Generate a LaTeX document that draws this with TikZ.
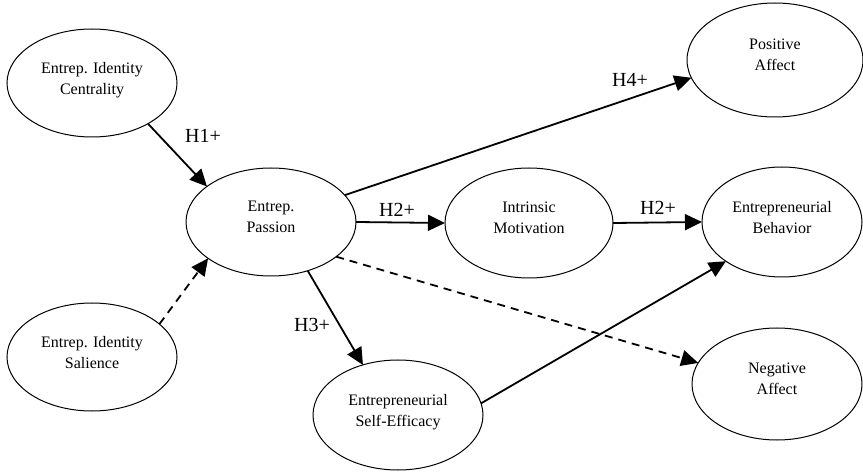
\documentclass[tikz,border=0pt]{standalone}
\usepackage{fontspec}
\setmainfont{Liberation Serif}
\usetikzlibrary{shapes.geometric,arrows.meta}
\begin{document}
\begin{tikzpicture}[x=1pt,y=-1pt,
  ell/.style={ellipse,draw,line width=1pt,inner sep=0pt,outer sep=0pt,
    align=center,text depth=10pt,font=\fontsize{16}{21}\selectfont},
  conn/.style={line width=1.8pt,-{Triangle[length=17pt,width=16pt]}},
  dashconn/.style={conn,dash pattern=on 8pt off 6pt},
  hlab/.style={font=\fontsize{20}{24}\selectfont,inner sep=0pt}]
\useasboundingbox (0,0) rectangle (863,473);
\node[ell,minimum width=170pt,minimum height=108pt] (cent) at (92,83) {Entrep. Identity\\Centrality};
\node[ell,minimum width=170pt,minimum height=108pt] (sal) at (92,357) {Entrep. Identity\\Salience};
\node[ell,minimum width=170pt,minimum height=108pt] (pas) at (271,222) {Entrep.\\Passion};
\node[ell,minimum width=168pt,minimum height=110pt] (im) at (529,223) {Intrinsic\\Motivation};
\node[ell,minimum width=176pt,minimum height=114pt] (pos) at (775,60) {Positive\\Affect};
\node[ell,minimum width=160pt,minimum height=110pt] (beh) at (782,222) {Entrepreneurial\\Behavior};
\node[ell,minimum width=170pt,minimum height=112pt] (neg) at (777,384) {Negative\\Affect};
\node[ell,minimum width=170pt,minimum height=110pt] (se) at (398,415) {Entrepreneurial\\Self-Efficacy};
\draw[conn] (cent.-36.9) -- (pas.151.3);
\draw[dashconn] (sal.26.6) -- (pas.210.4);
\draw[conn] (pas.20.6) -- (pos.192.8);
\draw[conn] (pas.east) -- (im.west);
\draw[conn] (im.east) -- (beh.west);
\draw[conn] (pas.-53.3) -- (se.125.6);
\draw[dashconn] (pas.-28.6) -- (neg.165.5);
\draw[conn] (se.8.7) -- (beh.215);
\node[hlab] (l1) at (203,136) {H1+};
\node[hlab] (l4) at (630,80) {H4+};
\node[hlab] (l2a) at (397,210) {H2+};
\node[hlab] (l2b) at (658,208) {H2+};
\node[hlab] (l3) at (312,325) {H3+};
\end{tikzpicture}
\end{document}
